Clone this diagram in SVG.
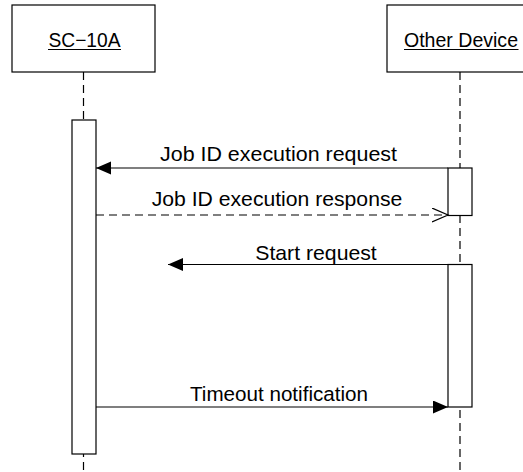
<svg xmlns="http://www.w3.org/2000/svg" width="523" height="472" viewBox="0 0 523 472">
<defs>
<style>
.box{fill:#fff;stroke:#000;stroke-width:1.2}
.life{stroke:#000;stroke-width:1.2;stroke-dasharray:8,5;fill:none}
.msg{stroke:#000;stroke-width:1.2;fill:none}
.dash{stroke-dasharray:8,5}
.t{font-family:"Liberation Sans",Arial,sans-serif;fill:#000}
.title{font-size:20px}
.lbl{font-size:21px}
</style>
<marker id="filled" markerWidth="16" markerHeight="14" refX="15" refY="6.5" orient="auto" markerUnits="userSpaceOnUse">
<path d="M0,0 L15,6.5 L0,13 Z" fill="#000"/>
</marker>
<marker id="open" markerWidth="18" markerHeight="16" refX="16" refY="7" orient="auto" markerUnits="userSpaceOnUse">
<path d="M0,0 L16,7 L0,14" fill="none" stroke="#000" stroke-width="1.2"/>
</marker>
</defs>
<rect width="523" height="472" fill="#fff"/>
<g id="lifelines">
<line class="life" x1="83.5" y1="72" x2="83.5" y2="472"/>
<line class="life" x1="460" y1="72" x2="460" y2="472"/>
</g>
<g id="node-sc10a">
<rect class="box" x="12" y="5" width="143" height="67"/>
<text class="t title" x="84.5" y="46.5" text-anchor="middle" textLength="72" lengthAdjust="spacingAndGlyphs">SC−10A</text>
<line x1="48" y1="49.5" x2="121" y2="49.5" stroke="#000" stroke-width="1.2"/>
</g>
<g id="node-other">
<rect class="box" x="387" y="5" width="146" height="67"/>
<text class="t title" x="461" y="46.5" text-anchor="middle" textLength="114" lengthAdjust="spacingAndGlyphs">Other Device</text>
<line x1="404" y1="49.5" x2="518.5" y2="49.5" stroke="#000" stroke-width="1.2"/>
</g>
<g id="activations">
<rect class="box" x="72" y="120" width="24" height="334"/>
<rect class="box" x="448" y="168" width="24" height="47.5"/>
<rect class="box" x="448" y="264.5" width="24" height="142.5"/>
</g>
<g id="connectors">
<line class="msg" x1="448" y1="168" x2="96" y2="168" marker-end="url(#filled)"/>
<line class="msg dash" x1="96" y1="215" x2="448" y2="215" marker-end="url(#open)"/>
<line class="msg" x1="448" y1="264.5" x2="168" y2="264.5" marker-end="url(#filled)"/>
<line class="msg" x1="96" y1="407" x2="448" y2="407" marker-end="url(#filled)"/>
</g>
<g id="labels">
<text class="t lbl" x="278.5" y="160.5" text-anchor="middle" textLength="237" lengthAdjust="spacingAndGlyphs">Job ID execution request</text>
<text class="t lbl" x="277" y="206" text-anchor="middle" textLength="250.5" lengthAdjust="spacingAndGlyphs">Job ID execution response</text>
<text class="t lbl" x="316" y="259.5" text-anchor="middle" textLength="121.5" lengthAdjust="spacingAndGlyphs">Start request</text>
<text class="t lbl" x="279" y="401" text-anchor="middle" textLength="178" lengthAdjust="spacingAndGlyphs" style="font-size:20.5px">Timeout notification</text>
</g>
</svg>
